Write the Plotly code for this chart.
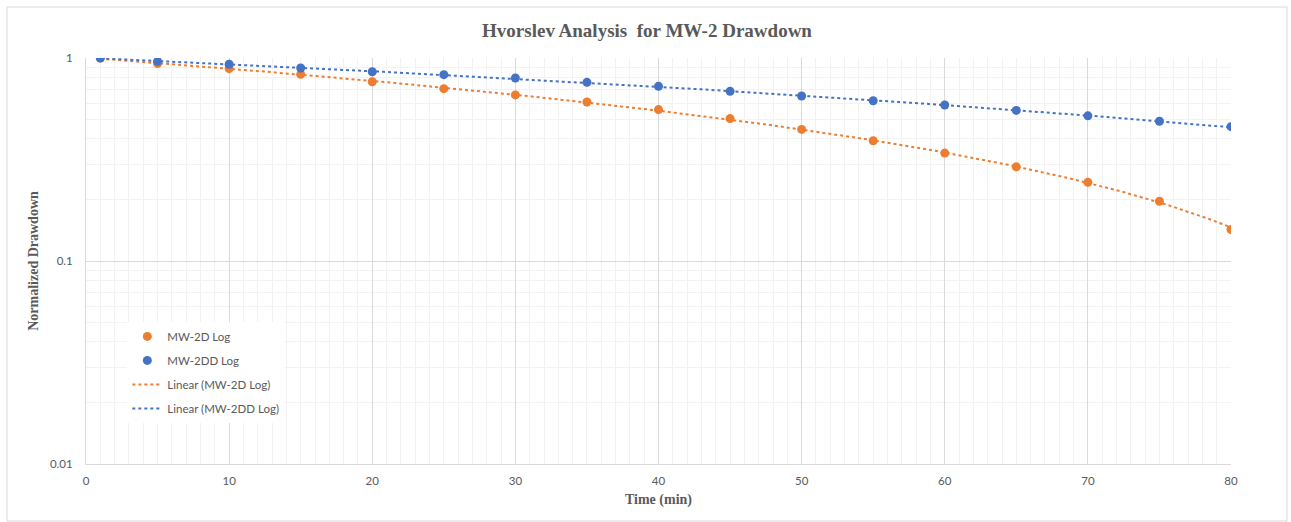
import numpy as np
import plotly.graph_objects as go

time_min = [1, 5, 10, 15, 20, 25, 30, 35, 40, 45, 50, 55, 60, 65, 70, 75, 80]
mw2d_log = [1.0, 0.94, 0.886, 0.831, 0.764, 0.706, 0.658, 0.607, 0.557, 0.503,
            0.445, 0.391, 0.340, 0.291, 0.244, 0.197, 0.143]
mw2dd_log = [1.0, 0.963, 0.931, 0.893, 0.856, 0.828, 0.797, 0.759, 0.725, 0.685,
             0.650, 0.616, 0.587, 0.552, 0.519, 0.488, 0.459]
y_tick_vals = [0.01, 0.1, 1]
y_tick_text = ["0.01", "0.1", "1"]
x_tick_vals = [0, 10, 20, 30, 40, 50, 60, 70, 80]

ORANGE = "#ED7D31"
BLUE = "#4472C4"
GRAY_TXT = "#595959"

def trend(x, y):
    c = np.polyfit(x, y, 2)
    xs = np.linspace(min(x), max(x), 300)
    return xs, np.polyval(c, xs)

fig = go.Figure()
tx, ty = trend(time_min, mw2d_log)
fig.add_trace(go.Scatter(x=tx, y=ty, mode="lines", name="Linear (MW-2D Log)",
                         line=dict(color=ORANGE, width=2, dash="dot"),
                         legendgroup="c", legendrank=3))
tx, ty = trend(time_min, mw2dd_log)
fig.add_trace(go.Scatter(x=tx, y=ty, mode="lines", name="Linear (MW-2DD Log)",
                         line=dict(color=BLUE, width=2, dash="dot"),
                         legendgroup="d", legendrank=4))
fig.add_trace(go.Scatter(x=time_min, y=mw2d_log, mode="markers", name="MW-2D Log",
                         marker=dict(color=ORANGE, size=9), legendgroup="a", legendrank=1))
fig.add_trace(go.Scatter(x=time_min, y=mw2dd_log, mode="markers", name="MW-2DD Log",
                         marker=dict(color=BLUE, size=9), legendgroup="b", legendrank=2))

minor_y = [m * 10.0 ** e for e in (-2, -1) for m in range(2, 10)]

fig.update_layout(
    width=1291, height=522,
    margin=dict(l=86, r=60, t=58, b=58),
    paper_bgcolor="white", plot_bgcolor="white",
    title=dict(text="<b>Hvorslev Analysis  for MW-2 Drawdown</b>", x=(647 - 86) / 1145,
               xref="paper", xanchor="center", y=1 - 30 / 522, yanchor="middle",
               font=dict(family="Liberation Serif", size=19, color=GRAY_TXT)),
    legend=dict(x=0.0361, y=0.35, xanchor="left", yanchor="top",
                bgcolor="white", traceorder="grouped", tracegroupgap=5,
                font=dict(family="Lato", size=11.5, color=GRAY_TXT),
                itemwidth=30),
    font=dict(family="Lato", size=11.5, color=GRAY_TXT),
)
fig.update_xaxes(
    range=[0, 80], tickvals=x_tick_vals, showgrid=True, gridcolor="#D9D9D9", gridwidth=1,
    zeroline=False, showline=True, linecolor="#D9D9D9", linewidth=1,
    ticks="", ticklabelstandoff=6,
    minor=dict(dtick=1, tick0=0, showgrid=True, gridcolor="#F2F2F2", gridwidth=1),
    title=dict(text="<b>Time (min)</b>", standoff=8,
               font=dict(family="Liberation Serif", size=14, color=GRAY_TXT)),
    tickfont=dict(family="Lato", size=11.5, color=GRAY_TXT),
)
fig.update_yaxes(
    type="log", range=[-2, 0], tickvals=y_tick_vals, ticktext=y_tick_text,
    showgrid=True, gridcolor="#D9D9D9", gridwidth=1,
    zeroline=False, showline=True, linecolor="#D9D9D9", linewidth=1,
    ticks="", ticklabelstandoff=10,
    minor=dict(tickvals=minor_y, showgrid=True, gridcolor="#F2F2F2", gridwidth=1),
    title=dict(text="<b>Normalized Drawdown</b>", standoff=8,
               font=dict(family="Liberation Serif", size=14, color=GRAY_TXT)),
    tickfont=dict(family="Lato", size=11.5, color=GRAY_TXT),
)
# outer chart border
fig.add_shape(type="rect", xref="paper", yref="paper",
              x0=(7 - 86) / 1145, x1=(1287 - 86) / 1145,
              y0=(464 - 521) / 406, y1=(464 - 7) / 406,
              line=dict(color="#D9D9D9", width=1), layer="below")

fig.write_html("out.html")
